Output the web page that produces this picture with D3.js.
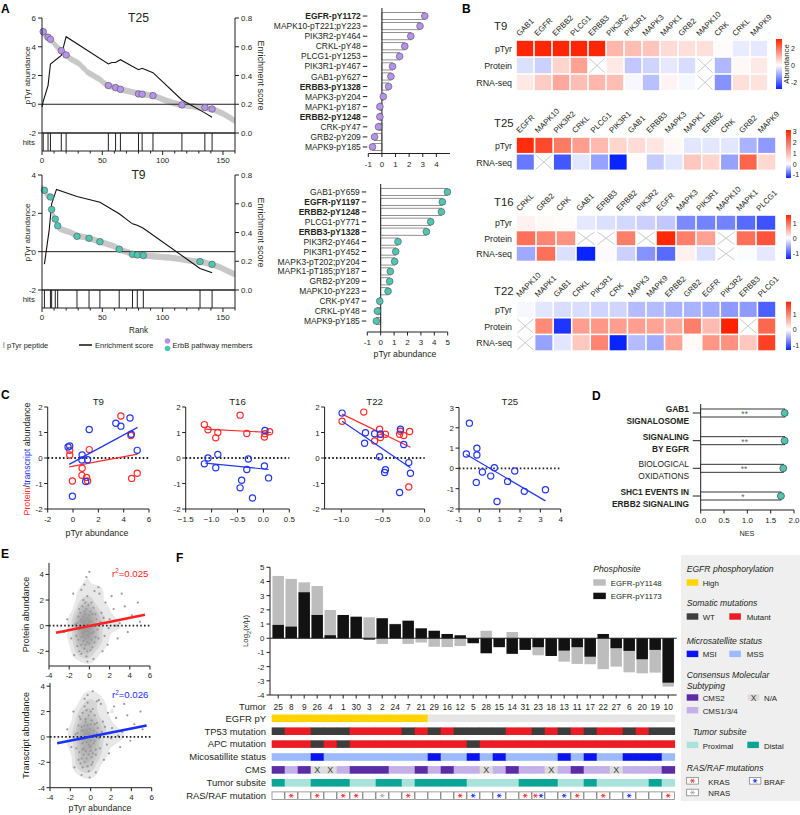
<!DOCTYPE html>
<html><head><meta charset="utf-8">
<script src="https://cdn.jsdelivr.net/npm/d3@7"></script>
<style>body{margin:0;background:#fff;}</style>
</head><body>
<script>
// ================= DATA =================
const rankT25 = [5.05,4.95,4.85,4.78,4.72,4.66,4.58,4.52,4.42,4.32,
4.22,4.12,4.03,3.95,3.87,3.80,3.73,3.65,3.58,3.50,
3.43,3.36,3.28,3.21,3.15,3.10,3.05,3.00,2.96,2.92,
2.86,2.80,2.72,2.62,2.55,2.48,2.40,2.28,2.22,2.17,
2.12,2.07,2.02,1.97,1.92,1.87,1.82,1.78,1.72,1.65,
1.58,1.50,1.44,1.38,1.34,1.30,1.27,1.24,1.21,1.18,
1.16,1.14,1.12,1.10,1.07,1.04,1.02,1.00,0.98,0.96,
0.94,0.92,0.90,0.88,0.86,0.84,0.82,0.80,0.78,0.75,
0.72,0.71,0.70,0.70,0.69,0.68,0.67,0.66,0.65,0.63,
0.62,0.61,0.60,0.57,0.54,0.51,0.48,0.45,0.42,0.38,
0.35,0.32,0.29,0.26,0.23,0.20,0.17,0.14,0.11,0.08,
0.06,0.04,0.02,0.00,-0.02,-0.04,-0.05,-0.06,-0.07,-0.08,
-0.09,-0.10,-0.11,-0.12,-0.13,-0.14,-0.15,-0.17,-0.19,-0.20,
-0.21,-0.22,-0.23,-0.24,-0.24,-0.25,-0.26,-0.28,-0.30,-0.32,
-0.33,-0.35,-0.37,-0.40,-0.43,-0.46,-0.50,-0.54,-0.58,-0.62,
-0.66,-0.70,-0.75,-0.80,-0.85,-0.90,-0.95,-1.00,-1.06,-1.12];
const rankT9 = [3.30,3.25,3.20,3.05,2.95,2.90,2.87,2.85,2.20,2.00,
1.85,1.70,1.50,1.35,1.25,1.20,1.17,1.14,1.12,1.10,
1.08,1.06,1.04,1.02,0.99,0.96,0.93,0.90,0.87,0.84,
0.82,0.80,0.79,0.78,0.77,0.76,0.75,0.73,0.71,0.70,
0.68,0.66,0.64,0.62,0.60,0.58,0.56,0.54,0.52,0.50,
0.48,0.46,0.44,0.42,0.40,0.38,0.36,0.34,0.32,0.30,
0.27,0.24,0.20,0.16,0.13,0.10,0.07,0.05,0.03,0.01,
-0.01,-0.03,-0.05,-0.08,-0.11,-0.14,-0.15,-0.16,-0.16,-0.17,
-0.17,-0.18,-0.19,-0.20,-0.20,-0.21,-0.21,-0.22,-0.22,-0.23,
-0.23,-0.24,-0.24,-0.25,-0.25,-0.26,-0.26,-0.27,-0.27,-0.28,
-0.28,-0.29,-0.29,-0.30,-0.30,-0.31,-0.31,-0.32,-0.33,-0.34,
-0.34,-0.35,-0.36,-0.37,-0.38,-0.39,-0.40,-0.41,-0.42,-0.43,
-0.44,-0.45,-0.46,-0.47,-0.48,-0.49,-0.50,-0.50,-0.51,-0.51,
-0.52,-0.53,-0.54,-0.55,-0.56,-0.57,-0.59,-0.61,-0.63,-0.65,
-0.66,-0.68,-0.70,-0.72,-0.74,-0.76,-0.78,-0.80,-0.83,-0.86,
-0.89,-0.92,-0.95,-0.98,-1.01,-1.04,-1.07,-1.10,-1.13,-1.16];
const hitsT25 = [[1,5.05],[5,4.66],[7,4.52],[16,3.73],[20,3.43],[55,1.30],[61,1.16],[65,1.04],[80,0.72],[83,0.70],[92,0.60],[116,-0.05],[135,-0.23],[141,-0.33]];
const esT25 = [[0,0.18],[1,0.22],[5,0.33],[7,0.48],[16,0.54],[20,0.67],[55,0.48],[58,0.49],[61,0.49],[65,0.51],[80,0.44],[83,0.45],[92,0.42],[116,0.23],[135,0.14],[141,0.11]];
const hitsT9 = [[2,3.2],[7,2.85],[8,2.2],[11,1.7],[13,1.35],[29,0.8],[39,0.7],[48,0.52],[64,0.13],[75,-0.14],[79,-0.17],[84,-0.2],[131,-0.52],[141,-0.66]];
const esT9 = [[2,0.18],[6,0.42],[8,0.6],[12,0.7],[29,0.65],[39,0.63],[48,0.61],[64,0.53],[75,0.46],[79,0.45],[84,0.43],[131,0.15],[141,0.12]];
const lolTopNames = ["EGFR-pY1172","MAPK10-pT221;pY223","PIK3R2-pY464","CRKL-pY48","PLCG1-pY1253","PIK3R1-pY467","GAB1-pY627","ERBB3-pY1328","MAPK3-pY204","MAPK1-pY187","ERBB2-pY1248","CRK-pY47","GRB2-pY209","MAPK9-pY185"];
const lolTopVals = [3.15,2.8,2.12,1.68,1.3,0.78,0.66,0.49,0.1,-0.15,-0.15,-0.25,-0.54,-0.69];
const lolTopBold = ["EGFR-pY1172","ERBB3-pY1328","ERBB2-pY1248"];
const lolBotNames = ["GAB1-pY659","EGFR-pY1197","ERBB2-pY1248","PLCG1-pY771","ERBB3-pY1328","PIK3R2-pY464","PIK3R1-pY452","MAPK3-pT202;pY204","MAPK1-pT185;pY187","GRB2-pY209","MAPK10-pY223","CRK-pY47","CRKL-pY48","MAPK9-pY185"];
const lolBotVals = [4.98,4.6,4.53,3.73,3.41,1.29,1.12,1.04,0.72,0.67,0.55,-0.07,-0.25,-0.32];
const lolBotBold = ["EGFR-pY1197","ERBB2-pY1248","ERBB3-pY1328"];

const hmT9Genes = ["GAB1","EGFR","ERBB2","PLCG1","ERBB3","PIK3R2","PIK3R1","MAPK3","MAPK1","GRB2","MAPK10","CRK","CRKL","MAPK9"];
const hmT9pTyr = [3,3,3,3,3,1.0,0.9,0.8,0.5,0.45,0.45,0.05,-0.25,-0.3];
const hmT9Prot = [-0.4,-0.6,0.6,1.3,null,0.3,-0.7,-0.55,-0.3,-0.45,null,-0.9,0.1,0.3];
const hmT9Rna  = [0.3,0.7,1.2,0.9,1.0,0.9,-0.1,-0.8,0.15,-0.1,null,-1.4,0.45,0.4];
const hmT25Genes = ["EGFR","MAPK10","PIK3R2","CRKL","PLCG1","PIK3R1","GAB1","ERBB3","MAPK3","MAPK1","ERBB2","CRK","GRB2","MAPK9"];
const hmT25pTyr = [3.0,2.6,1.9,1.4,1.0,0.6,0.5,0.35,0.1,-0.15,-0.15,-0.15,-0.45,-0.6];
const hmT25Rna  = [-0.8,null,-1.0,-0.15,-0.55,-1.3,0.03,-0.3,-0.15,0.8,0.6,-0.55,2.2,0.55];
const hmT16Genes = ["CRKL","GRB2","CRK","GAB1","ERBB3","ERBB2","PIK3R2","EGFR","MAPK3","PIK3R1","MAPK10","MAPK1","PLCG1"];
const hmT16pTyr = [0.1,0.04,0.02,-0.15,-0.2,-0.25,-0.3,-0.35,-0.75,-0.8,-0.8,-0.95,-1.1];
const hmT16Prot = [1.0,0.85,0.75,null,null,0.9,null,1.5,0.9,0.65,null,1.0,1.2];
const hmT16Rna  = [-0.55,1.0,-0.2,-1.4,-0.03,-0.3,-0.7,-0.95,0.1,-0.2,null,-0.02,-0.15];
const hmT22Genes = ["MAPK10","MAPK1","GAB1","CRKL","PIK3R1","CRK","MAPK3","MAPK9","ERBB2","GRB2","EGFR","PIK3R2","ERBB3","PLCG1"];
const hmT22pTyr = [-0.05,-0.15,-0.2,-0.2,-0.25,-0.25,-0.4,-0.4,-0.45,-0.45,-0.5,-0.6,-0.6,-0.95];
const hmT22Prot = [null,0.95,-1.2,0.8,0.85,0.8,0.8,0.75,0.7,1.05,0.55,1.8,null,1.25];
const hmT22Rna  = [null,-0.55,-0.15,0.45,1.0,-1.3,-0.4,-0.5,0.75,0.05,0.85,0.9,0.45,1.55];

const cT9Prot = [[-0.26,0.3],[-0.26,0.12],[-0.05,-0.9],[0.72,-0.4],[0.7,-0.68],[1.07,-0.76],[1.15,-0.9],[1.28,0.33],[3.78,1.65],[4.57,0.88],[4.63,-0.8],[5.07,-0.6]];
const cT9Rna  = [[-0.39,0.43],[-0.26,0.47],[-0.05,-1.5],[0.72,0.12],[0.7,-0.08],[1.15,-0.07],[1.0,-0.92],[1.28,1.12],[3.38,1.36],[3.78,1.25],[4.5,1.57],[4.6,0.93],[5.07,0.3]];
const cT9FitProt = [[-0.3,-0.35],[5.1,0.15]], cT9FitRna = [[-0.3,-0.25],[5.1,1.2]];
const cT16Prot = [[-1.14,1.31],[-1.07,1.11],[-0.92,0.79],[-0.88,1.0],[-0.45,1.68],[-0.32,0.96],[0.03,0.95],[0.02,0.82],[0.12,1.03]];
const cT16Rna  = [[-1.14,-0.23],[-1.07,0.0],[-0.92,-0.38],[-0.88,0.14],[-0.45,-1.17],[-0.42,-0.87],[-0.32,-0.45],[-0.29,-0.04],[-0.21,-1.57],[0.02,-0.31],[0.03,1.08],[0.1,-0.78]];
const cT16FitProt = [[-1.12,1.13],[0.15,1.0]], cT16FitRna = [[-1.12,-0.2],[0.1,-0.45]];
const cT22Prot = [[-0.99,1.44],[-0.73,1.8],[-0.6,0.67],[-0.54,1.13],[-0.53,0.93],[-0.53,0.8],[-0.47,0.93],[-0.3,0.93],[-0.29,1.05],[-0.25,0.88],[-0.18,1.04],[-0.19,-1.14]];
const cT22Rna  = [[-0.99,1.76],[-0.71,0.99],[-0.72,0.58],[-0.6,0.95],[-0.53,0.93],[-0.54,0.05],[-0.47,-0.46],[-0.48,-0.57],[-0.3,-1.35],[-0.29,1.13],[-0.25,0.53],[-0.19,-0.18],[-0.17,-0.6]];
const cT22FitProt = [[-0.99,1.72],[-0.17,0.42]], cT22FitRna = [[-0.99,1.44],[-0.17,-0.38]];
const cT25Rna  = [[-0.49,2.23],[-0.64,0.71],[-0.12,0.99],[-0.12,0.66],[-0.15,-0.69],[0.15,-0.18],[0.56,-0.38],[0.74,0.03],[0.87,-1.63],[1.39,-0.64],[1.74,-0.13],[2.21,-1.13],[3.25,-1.05]];
const cT25FitRna = [[-0.64,0.68],[3.25,-1.6]];

const nesLabels = [["GAB1","SIGNALOSOME"],["SIGNALING","BY EGFR"],["BIOLOGICAL","OXIDATIONS"],["SHC1 EVENTS IN","ERBB2 SIGNALING"]];
const nesBold = [true,true,false,true];
const nesVals = [1.8,1.8,1.77,1.72];
const nesSig = ["**","**","**","*"];

const eProt = [[-0.5,0.2],[-0.3,-0.4],[-0.8,0.5],[-0.1,-0.9],[-0.6,-1.2],[0.2,0.3],[-0.4,0.9],[-1.0,-0.3],[0.1,-0.2],[-0.2,0.6],[-0.7,-0.6],[0.4,-0.5],[-0.3,1.3],[-0.9,1.0],[0.0,-1.4],[-0.5,-1.8],[-1.2,0.2],[0.3,0.9],[-0.6,0.0],[-0.2,-0.7],[0.5,0.1],[-0.4,-1.0],[-0.8,-1.5],[-1.1,0.7],[0.2,-1.1],[-0.1,1.6],[-0.7,1.5],[0.6,-0.9],[-0.3,-0.1],[-1.3,-0.8],[0.0,0.4],[-0.5,-0.5],[-0.9,-0.1],[0.3,-1.7],[-0.2,-2.0],[-0.6,2.0],[0.1,1.1],[-1.0,1.3],[-0.4,0.4],[0.7,0.5],[-0.8,-2.2],[-0.1,-0.4],[0.4,1.4],[-1.4,0.1],[-0.6,-0.8],[-0.3,0.1],[0.0,0.8],[-0.7,0.3],[0.2,-0.6],[-0.5,1.1],[-1.1,-1.1],[0.8,-0.3],[-0.2,-1.3],[-0.9,0.4],[0.1,-1.9],[-0.4,-1.5],[0.5,-1.3],[-1.2,-1.6],[-0.6,0.7],[-0.1,0.2],[-0.3,-2.4],[0.3,0.0],[-0.8,-0.9],[-0.4,1.8],[0.0,-0.6],[-1.0,-2.0],[0.6,0.9],[-0.7,-0.3],[-0.2,2.3],[0.2,1.8],
[-0.5,3.2],[0.0,4.2],[-0.3,3.8],[-1.6,2.5],[1.2,1.0],[1.5,-0.8],[2.0,0.5],[2.4,1.3],[1.8,-1.5],[3.0,0.2],[3.5,1.5],[4.2,0.8],[2.8,-1.0],[1.0,2.5],[-1.8,-1.0],[-2.2,0.5],[1.3,-2.0],[0.9,3.0],[-0.8,2.8],[4.8,1.8],[3.8,-0.5],[2.2,2.3],[-1.5,-2.3],[0.4,-2.6],[1.6,1.8],[5.0,0.3],[2.6,0.0],[-0.2,-2.8],[1.1,0.3],[0.9,-1.0],[3.2,2.5],[1.9,-0.2],[-2.5,-0.5],[0.5,2.7],[1.4,0.6]];
const eRna = [[-0.4,0.3],[-0.2,-0.6],[-0.9,0.8],[0.0,-1.1],[-0.7,-1.4],[0.3,0.5],[-0.5,1.2],[-1.1,-0.2],[0.1,0.0],[-0.3,0.9],[-0.8,-0.5],[0.4,-0.3],[-0.2,1.7],[-1.0,1.4],[0.1,-1.6],[-0.6,-2.0],[-1.3,0.3],[0.4,1.0],[-0.6,0.2],[-0.1,-0.8],[0.6,0.3],[-0.5,-1.1],[-0.9,-1.7],[-1.2,0.9],[0.2,-1.3],[0.0,2.0],[-0.8,1.9],[0.5,-1.0],[-0.3,0.0],[-1.4,-0.9],[-0.1,0.6],[-0.4,-0.4],[-1.0,0.0],[0.2,-2.0],[-0.3,-2.3],[-0.6,2.4],[0.1,1.3],[-1.1,1.6],[-0.4,0.5],[0.7,0.7],[-0.8,-2.4],[0.0,-0.3],[0.4,1.7],[-1.5,0.2],[-0.7,-0.9],[-0.2,0.2],[0.0,1.0],[-0.7,0.5],[0.3,-0.5],[-0.5,1.4],[-1.1,-1.2],[0.8,-0.1],[-0.2,-1.4],[-0.9,0.5],[0.1,-2.2],[-0.4,-1.7],[0.5,-1.4],[-1.2,-1.8],[-0.6,0.9],[-0.1,0.3],[-0.3,2.7],[0.3,0.2],[-0.8,-1.0],[-0.4,2.1],[0.0,-0.7],[-1.0,-2.1],[0.6,1.1],[-0.7,-0.2],[-0.2,-2.7],[0.2,2.2],
[-0.3,3.3],[0.2,3.6],[-0.6,3.0],[-1.7,2.0],[1.2,1.2],[1.6,-0.6],[2.1,0.7],[2.5,1.5],[1.8,-1.3],[3.1,0.4],[3.6,1.7],[4.3,1.0],[2.9,-0.8],[1.0,2.6],[-1.9,-0.8],[-2.3,0.6],[1.3,-1.8],[0.8,2.9],[-0.9,-3.0],[4.9,2.0],[3.9,-0.3],[2.3,2.4],[-1.6,-2.4],[0.5,-2.8],[1.7,1.9],[5.1,0.6],[2.7,0.1],[-0.1,-3.2],[1.1,0.4],[0.9,-0.9],[3.3,2.6],[2.0,-0.1],[-2.6,-0.4],[0.6,2.8],[1.4,0.8]];
const eFitProt = [[-3.3,-0.55],[5.5,0.85]], eFitRna = [[-3.3,-0.5],[5.5,0.9]];

const tumors = ["25","8","9","26","4","1","30","3","2","24","7","21","29","16","12","5","28","15","14","31","23","18","13","11","17","22","27","6","20","19","10"];
const pY1148 = [4.39,4.18,3.94,3.68,1.99,1.5,1.4,1.48,-0.4,1.02,-0.4,-0.3,-0.6,-0.62,-0.55,-0.25,0.53,-0.5,0.44,-0.6,-1.2,-1.1,-1.65,-1.81,-1.83,-2.18,-2.0,-2.4,-2.47,-2.42,-3.41];
const pY1173 = [0.94,0.82,3.24,1.64,0.21,1.64,1.52,-0.1,1.41,0.99,1.24,0.7,0.53,0.3,0.21,-0.35,-1.06,-0.63,-1.1,-0.82,-0.63,-1.25,-0.87,-0.63,-1.3,0.3,-0.7,-0.89,-1.48,-0.82,-3.13];
const egfrPY = ["High","High","High","High","High","High","High","High","High","High","High","High","Low","Low","Low","Low","Low","Low","Low","Low","Low","Low","Low","Low","Low","Low","Low","Low","Low","Low","Low"];
const tp53 = ["WT","Mut","Mut","WT","WT","WT","Mut","Mut","Mut","Mut","WT","Mut","WT","Mut","WT","WT","WT","WT","Mut","Mut","WT","Mut","WT","Mut","WT","Mut","Mut","WT","Mut","WT","WT"];
const apc = ["Mut","Mut","Mut","WT","Mut","WT","Mut","Mut","Mut","Mut","Mut","Mut","Mut","Mut","Mut","WT","Mut","Mut","Mut","Mut","Mut","Mut","Mut","Mut","Mut","Mut","Mut","Mut","Mut","Mut","Mut"];
const msi = ["MSS","MSS","MSS","MSI","MSS","MSS","MSS","MSS","MSS","MSS","MSS","MSS","MSI","MSS","MSS","MSI","MSS","MSI","MSS","MSS","MSS","MSS","MSI","MSS","MSI","MSS","MSS","MSI","MSI","MSI","MSS"];
const cms = ["CMS2","CMS1/3/4","CMS2","NA","NA","CMS1/3/4","CMS2","CMS2","CMS2","CMS1/3/4","CMS1/3/4","CMS2","CMS1/3/4","CMS2","CMS1/3/4","CMS1/3/4","NA","CMS1/3/4","CMS2","CMS1/3/4","CMS1/3/4","NA","CMS1/3/4","CMS2","CMS1/3/4","CMS1/3/4","NA","CMS1/3/4","CMS1/3/4","CMS1/3/4","CMS2"];
const subsite = ["Distal","Proximal","Proximal","Distal","Distal","Distal","Proximal","Proximal","Distal","Distal","Proximal","Distal","Distal","Distal","Distal","Proximal","Proximal","Proximal","Proximal","Distal","Distal","Distal","Proximal","Proximal","Distal","Proximal","Proximal","Proximal","Proximal","Distal","Proximal"];
const rasraf = ["","K","","K","","K","K","","N","","K","","","","K","B","","B","","K","KB","","B","K","","K","","B","","","K"];

// ================= DRAWING =================
const INK = '#231f20';
const svg = d3.select('body').append('svg').attr('width',800).attr('height',815)
  .style('font-family','"Liberation Sans", Arial, sans-serif');
svg.append('rect').attr('width',800).attr('height',815).attr('fill','#fff');
const defs = svg.append('defs');

// font-size calibration: size so that a sample string spans the width measured on the reference
const meas = svg.append('text').attr('x',-500).attr('y',-500);
function fit(str,target,o={}){
  meas.attr('font-size',10).attr('font-weight',o.weight||'normal').attr('font-style',o.italic?'italic':'normal').text(str);
  const w=meas.node().getComputedTextLength();
  return +(10*target/w).toFixed(2);
}
const S = {
  tick: fit('150',13.3),
  lol: fit('MAPK10-pT221;pY223',87),
  hrow: fit('RNA-seq',35.7),
  hgene: fit('MAPK10',31),
  title: fit('T25',21),
  htitle: fit('T25',19.5),
  ctitle: fit('T16',16.7),
  alab: fit('pTyr abundance',58),
  eslab: fit('Enrichment score',70),
  hits: fit('hits',12.3),
  rank: fit('Rank',19),
  aleg: fit('ErbB pathway members',80),
  xlab: fit('pTyr abundance',63),
  clab: fit('Protein',28),
  dlab: fit('ERBB2 SIGNALING',77,{weight:'bold'}),
  nes: fit('NES',15),
  elab: fit('Transcript abundance',86.7),
  r2: fit('r=0.025',33),
  tum: fit('25',9.3),
  flab: fit('Tumor',27),
  fleg: fit('EGFR-pY1148',51),
  flegi: fit('EGFR phosphorylation',87,{italic:true}),
  log: fit('Log(x/μ)',29)
};
meas.remove();

function T(x,y,s,o={}){
  const t=svg.append('text').attr('x',x).attr('y',y).attr('font-size',o.size||S.tick)
    .attr('text-anchor',o.anchor||'start').attr('fill',o.fill||INK).text(s);
  if(o.weight) t.attr('font-weight',o.weight);
  if(o.italic) t.attr('font-style','italic');
  if(o.rot!=null) t.attr('transform',`rotate(${o.rot},${x},${y})`);
  return t;
}
function L(x1,y1,x2,y2,o={}){
  const l=svg.append('line').attr('x1',x1).attr('y1',y1).attr('x2',x2).attr('y2',y2)
    .attr('stroke',o.stroke||INK).attr('stroke-width',o.w||1);
  if(o.dash) l.attr('stroke-dasharray',o.dash);
  return l;
}
const PURPLE='#b592ec', TEAL='#4fc6b3';

// ---------- Panel A : rank plots ----------
function rankPlot(c){
  const x=d3.scaleLinear().domain([0,160]).range([42,235]);
  const y=d3.scaleLinear().domain(c.yDom).range([c.yBot,c.yTop]);
  const e=d3.scaleLinear().domain([0,0.8]).range([c.yBot,c.yTop]);
  svg.append('g').selectAll('rect').data(c.curve).join('rect')
    .attr('x',(d,i)=>x(i)-1.1).attr('y',d=>y(d)-3).attr('width',2.2).attr('height',6).attr('fill','#c8c8c8');
  L(42,y(0),235,y(0),{w:1});
  svg.append('path').datum(c.es).attr('d',d3.line().x(d=>x(d[0])).y(d=>e(d[1])))
    .attr('fill','none').attr('stroke','#111').attr('stroke-width',1.1);
  svg.append('g').selectAll('circle').data(c.hits).join('circle')
    .attr('cx',d=>x(d[0])).attr('cy',d=>y(d[1])).attr('r',3.3)
    .attr('fill',c.color).attr('stroke','#555').attr('stroke-width',0.6);
  c.hits.forEach(d=>L(x(d[0]),c.yBot,x(d[0]),c.hBot,{w:1}));
  L(42,c.yBot,235,c.yBot,{w:1.4});
  L(42,c.yTop,42,c.hBot); L(235,c.yTop,235,c.hBot); L(42,c.hBot,235,c.hBot);
  c.yTicks.forEach(v=>{L(38,y(v),42,y(v)); T(36,y(v)+3,String(v),{anchor:'end'});});
  [0.8,0.6,0.4,0.2,0].forEach(v=>{L(235,e(v),239,e(v)); T(241,e(v)+3,v.toFixed(1));});
  d3.range(0,161,10).forEach(v=>{const M=v%50===0; L(x(v),c.hBot,x(v),c.hBot+(M?4:2.5));
    if(M&&v<=150) T(x(v),c.hBot+12,String(v),{anchor:'middle'});});
  T(35,(c.yBot+c.hBot)/2+3,'hits',{anchor:'end',size:S.hits});
  T(138.5,c.yTop+3.5,c.title,{anchor:'middle',size:S.title});
  T(30,(c.yTop+c.yBot)/2,'pTyr abundance',{anchor:'middle',rot:-90,size:S.alab});
  T(258,(c.yTop+c.yBot)/2,'Enrichment score',{anchor:'middle',rot:90,size:S.eslab});
}
rankPlot({curve:rankT25,hits:hitsT25,es:esT25,yDom:[-2,6],yTop:18,yBot:133,hBot:151,yTicks:[6,4,2,0,-2],title:'T25',color:PURPLE});
rankPlot({curve:rankT9,hits:hitsT9,es:esT9,yDom:[-2,4],yTop:175,yBot:290,hBot:308,yTicks:[4,2,0,-2],title:'T9',color:TEAL});
T(138.5,333,'Rank',{anchor:'middle',size:S.rank});
svg.append('rect').attr('x',3).attr('y',342).attr('width',1.6).attr('height',6).attr('fill','#bbb');
T(7,347.5,'pTyr peptide',{size:S.aleg});
L(79,345,92,345,{w:1.6});
T(95,347.5,'Enrichment score',{size:S.aleg});
svg.append('circle').attr('cx',167.5).attr('cy',341).attr('r',2.8).attr('fill',PURPLE);
svg.append('circle').attr('cx',167.5).attr('cy',348.5).attr('r',2.8).attr('fill',TEAL);
T(172.5,347.5,'ErbB pathway members',{size:S.aleg});

// ---------- Panel A : lollipops ----------
function lollipop(c){
  const x=d3.scaleLinear().domain([-1,5]).range([c.x0,c.x1]);
  const y=d3.scaleBand().domain(c.names).range([c.yTop,c.yBot]);
  c.names.forEach((n,i)=>{
    const cy=y(n)+y.bandwidth()/2, v=c.vals[i];
    svg.append('rect').attr('x',Math.min(x(0),x(v))).attr('y',cy-3.6).attr('width',Math.abs(x(v)-x(0)))
      .attr('height',7.2).attr('fill','#fff').attr('stroke','#777').attr('stroke-width',0.8);
  });
  L(x(0),c.yTop-3,x(0),c.axisY);
  c.names.forEach((n,i)=>{
    const cy=y(n)+y.bandwidth()/2, v=c.vals[i];
    svg.append('circle').attr('cx',x(v)).attr('cy',cy).attr('r',3.4).attr('fill',c.color).attr('stroke','#555').attr('stroke-width',0.6);
    L(c.x0-5.5,cy,c.x0-1,cy);
    T(c.x0-7.5,cy+3.1,n,{anchor:'end',weight:c.bold.includes(n)?'bold':null,size:S.lol});
  });
  L(c.x0,c.axisY,c.x1,c.axisY);
  c.ticks.forEach(v=>{L(x(v),c.axisY,x(v),c.axisY+3.5); T(x(v),c.axisY+13,String(v),{anchor:'middle'});});
}
lollipop({names:lolTopNames,vals:lolTopVals,bold:lolTopBold,x0:368.3,x1:450,yTop:11,yBot:152,axisY:153.5,color:PURPLE,ticks:[-1,0,1,2,3,4]});
lollipop({names:lolBotNames,vals:lolBotVals,bold:lolBotBold,x0:367.3,x1:447.7,yTop:187,yBot:326,axisY:332,color:TEAL,ticks:[-1,0,1,2,3,4,5]});
T(405,357,'pTyr abundance',{anchor:'middle',size:S.xlab});

// ---------- Panel B : heatmaps ----------
const RED='#ff2200', BLUE='#0a24ff';
function heat(c){
  const x=d3.scaleBand().domain(c.genes).range([c.x0,c.x1]);
  const col=d3.scaleLinear().domain([c.dom[0],0,c.dom[1]]).range([BLUE,'#ffffff',RED]).clamp(true);
  c.rows.forEach((r,ri)=>{
    const yy=c.y0+ri*c.pitch;
    T(c.x0-4,yy+c.h/2+3.5,c.rowNames[ri],{anchor:'end',size:S.hrow});
    r.forEach((v,ci)=>{
      const xx=x(c.genes[ci]), w=x.bandwidth();
      svg.append('rect').attr('x',xx+0.8).attr('y',yy+0.8).attr('width',w-1.6).attr('height',c.h-1.6)
        .attr('fill',v==null?'#fff':col(v));
      if(v==null){
        L(xx+1.5,yy+1.5,xx+w-1.5,yy+c.h-1.5,{stroke:'#bbb',w:0.8});
        L(xx+w-1.5,yy+1.5,xx+1.5,yy+c.h-1.5,{stroke:'#bbb',w:0.8});
      }
    });
  });
  c.genes.forEach(g=>T(x(g)+3.5,c.y0-3.5,g,{rot:-45,size:S.hgene}));
  T(c.tx,c.ty,c.title,{size:S.htitle});
  const id='grad'+c.title;
  const gr=defs.append('linearGradient').attr('id',id).attr('x1',0).attr('y1',0).attr('x2',0).attr('y2',1);
  gr.append('stop').attr('offset',0).attr('stop-color',RED);
  gr.append('stop').attr('offset',c.dom[1]/(c.dom[1]-c.dom[0])).attr('stop-color','#fff');
  gr.append('stop').attr('offset',1).attr('stop-color',BLUE);
  svg.append('rect').attr('x',c.cb[0]).attr('y',c.cb[1]).attr('width',c.cb[2]).attr('height',c.cb[3]-c.cb[1]).attr('fill',`url(#${id})`);
  const cy=d3.scaleLinear().domain(c.dom).range([c.cb[3],c.cb[1]]);
  c.cbTicks.forEach(v=>T(c.cbx||(c.cb[0]+c.cb[2]+1.8),cy(v)+2.6,String(v),{size:7}));
}
heat({title:'T9',tx:494,ty:30,genes:hmT9Genes,rows:[hmT9pTyr,hmT9Prot,hmT9Rna],rowNames:['pTyr','Protein','RNA-seq'],
  x0:516,x1:768,y0:40,pitch:17,h:17,dom:[-2.8,3.06],cb:[776,39,6,89],cbTicks:[2,0,-2],cbx:791});
T(789,64,'Abundance',{anchor:'middle',rot:-90,size:7.8});
heat({title:'T25',tx:494,ty:127,genes:hmT25Genes,rows:[hmT25pTyr,hmT25Rna],rowNames:['pTyr','RNA-seq'],
  x0:516,x1:776,y0:137,pitch:16.7,h:16.7,dom:[-1.3,3.15],cb:[786,130,5,178],cbTicks:[3,2,1,0,-1]});
heat({title:'T16',tx:494,ty:206,genes:hmT16Genes,rows:[hmT16pTyr,hmT16Prot,hmT16Rna],rowNames:['pTyr','Protein','RNA-seq'],
  x0:516,x1:776,y0:215,pitch:15.5,h:15.5,dom:[-1.4,1.55],cb:[786,215,5,259],cbTicks:[1,0,-1]});
heat({title:'T22',tx:494,ty:295,genes:hmT22Genes,rows:[hmT22pTyr,hmT22Prot,hmT22Rna],rowNames:['pTyr','Protein','RNA-seq'],
  x0:516,x1:776,y0:301,pitch:16.7,h:16.7,dom:[-1.3,1.8],cb:[786,301.7,5,350],cbTicks:[1,0,-1]});

// ---------- Panel C : scatter ----------
const CRED='#ff2a2a', CBLUE='#2236f0';
function scat(c){
  const x=d3.scaleLinear().domain(c.xDom).range(c.xR);
  const y=d3.scaleLinear().domain(c.yDom).range([509,c.yTopPx]);
  L(c.xR[0],509,c.xR[1],509); L(c.xR[0],509,c.xR[0],c.yTopPx);
  c.yTicks.forEach(v=>{L(c.xR[0]-3.5,y(v),c.xR[0],y(v)); T(c.xR[0]-5,y(v)+3,String(v),{anchor:'end'});});
  c.xTicks.forEach(v=>{L(x(v),509,x(v),512.5); T(x(v),521.5,c.fmt(v),{anchor:'middle'});});
  L(c.xR[0],y(0),c.xR[1],y(0),{w:1.8,dash:'1.6,2.2'});
  const line=d3.line().x(d=>x(d[0])).y(d=>y(d[1]));
  c.sets.forEach(s=>{
    svg.append('g').selectAll('circle').data(s.pts).join('circle').attr('cx',d=>x(d[0])).attr('cy',d=>y(d[1]))
      .attr('r',3.1).attr('fill','none').attr('stroke',s.color).attr('stroke-width',1.2);
    svg.append('path').datum(s.fit).attr('d',line).attr('stroke',s.color).attr('stroke-width',1.2).attr('fill','none');
  });
  T((c.xR[0]+c.xR[1])/2,404.5,c.title,{anchor:'middle',size:S.ctitle});
}
const fInt=v=>String(v), f1=d3.format('.1f');
scat({title:'T9',xDom:[-2,6],xR:[47.7,149],yDom:[-2,2],yTopPx:407,yTicks:[2,1,0,-1,-2],xTicks:[-2,0,2,4,6],fmt:fInt,
  sets:[{pts:cT9Prot,fit:cT9FitProt,color:CRED},{pts:cT9Rna,fit:cT9FitRna,color:CBLUE}]});
scat({title:'T16',xDom:[-1.5,0.5],xR:[185.7,289.3],yDom:[-2,2],yTopPx:407,yTicks:[2,1,0,-1,-2],xTicks:[-1.5,-1.0,-0.5,0,0.5],fmt:f1,
  sets:[{pts:cT16Prot,fit:cT16FitProt,color:CRED},{pts:cT16Rna,fit:cT16FitRna,color:CBLUE}]});
scat({title:'T22',xDom:[-1.2,0],xR:[324.6,424.6],yDom:[-2,2],yTopPx:407,yTicks:[2,1,0,-1,-2],xTicks:[-1.0,-0.5,0],fmt:f1,
  sets:[{pts:cT22Prot,fit:cT22FitProt,color:CRED},{pts:cT22Rna,fit:cT22FitRna,color:CBLUE}]});
scat({title:'T25',xDom:[-1,4],xR:[459,560.7],yDom:[-2,3],yTopPx:407.5,yTicks:[3,2,1,0,-1,-2],xTicks:[-1,0,1,2,3,4],fmt:fInt,
  sets:[{pts:cT25Rna,fit:cT25FitRna,color:CBLUE}]});
T(97,536,'pTyr abundance',{anchor:'middle',size:S.xlab});
{
  const t=svg.append('text').attr('x',29.5).attr('y',459).attr('font-size',S.clab).attr('text-anchor','middle')
    .attr('transform','rotate(-90,29.5,459)');
  t.append('tspan').attr('fill',CRED).text('Protein');
  t.append('tspan').attr('fill',INK).text('/');
  t.append('tspan').attr('fill',CBLUE).text('transcript');
  t.append('tspan').attr('fill',INK).text(' abundance');
}

// ---------- Panel D : NES ----------
{
  const x=d3.scaleLinear().domain([0,2]).range([700.7,794]);
  const rowsY=[413,440.7,468.3,496];
  L(700.7,404,700.7,510); L(700.7,510,794,510);
  [0,0.5,1,1.5,2].forEach(v=>{L(x(v),510,x(v),513.5); T(x(v),522.5,f1(v),{anchor:'middle'});});
  T(747,536,'NES',{anchor:'middle',size:S.nes});
  nesVals.forEach((v,i)=>{
    const cy=rowsY[i];
    svg.append('rect').attr('x',x(0)).attr('y',cy-4).attr('width',x(v)-x(0)).attr('height',8)
      .attr('fill','#fff').attr('stroke',INK).attr('stroke-width',0.9);
    svg.append('circle').attr('cx',x(v)).attr('cy',cy).attr('r',3.5).attr('fill',TEAL).attr('stroke','#333').attr('stroke-width',0.6);
    L(692.7,cy,700.7,cy);
    T(x(v/2)+2,cy+3.8,nesSig[i],{anchor:'middle',size:8.5,fill:'#666'});
    T(689,cy-1.2,nesLabels[i][0],{anchor:'end',weight:nesBold[i]?'bold':null,size:S.dlab});
    T(689,cy+11,nesLabels[i][1],{anchor:'end',weight:nesBold[i]?'bold':null,size:S.dlab});
  });
}

// ---------- Panel E : cloud scatter ----------
function eplot(c){
  const x=d3.scaleLinear().domain([-4,6]).range([c.x0,c.x1]);
  const y=d3.scaleLinear().domain(c.yDom).range([c.yB,c.yT]);
  const cid='clip'+c.id;
  defs.append('clipPath').attr('id',cid).append('rect').attr('x',c.x0).attr('y',c.yT).attr('width',c.x1-c.x0).attr('height',c.yB-c.yT);
  const g=svg.append('g').attr('clip-path',`url(#${cid})`);
  const dens=d3.contourDensity().x(d=>x(d[0])).y(d=>y(d[1])).size([800,815]).bandwidth(3.8).thresholds(10)(c.pts);
  g.selectAll('path').data(dens).join('path').attr('d',d3.geoPath()).attr('fill','#8a8a8a').attr('fill-opacity',0.2);
  g.selectAll('circle').data(c.pts).join('circle').attr('cx',d=>x(d[0])).attr('cy',d=>y(d[1])).attr('r',1.1).attr('fill','#999');
  L(c.x0,y(0),c.x1,y(0),{w:1.8,dash:'1.6,2.2'});
  svg.append('path').datum(c.fit).attr('d',d3.line().x(d=>x(d[0])).y(d=>y(d[1]))).attr('stroke',c.color).attr('stroke-width',2.6).attr('fill','none');
  L(c.x0,c.yT,c.x0,c.yB); L(c.x0,c.yB,c.x1,c.yB);
  c.yTicks.forEach(v=>{L(c.x0-3.5,y(v),c.x0,y(v)); T(c.x0-5,y(v)+3,String(v),{anchor:'end'});});
  [-4,-2,0,2,4,6].forEach(v=>{L(x(v),c.yB,x(v),c.yB+3.5); T(x(v),c.yB+12,String(v),{anchor:'middle'});});
  T(29.5,(c.yT+c.yB)/2,c.ylab,{anchor:'middle',rot:-90,size:S.elab});
  const t=svg.append('text').attr('x',112).attr('y',c.rY).attr('font-size',S.r2).attr('fill',c.color);
  t.append('tspan').text('r'); t.append('tspan').attr('dy',-3.5).attr('font-size',S.r2*0.65).text('2');
  t.append('tspan').attr('dy',3.5).text('=' + c.r2);
}
eplot({id:'e1',pts:eProt,fit:eFitProt,color:'#ff2020',x0:49,x1:150,yDom:[-3.15,4.9],yB:666,yT:562.9,yTicks:[-2,0,2,4],ylab:'Protein abundance',rY:576.5,r2:'0.025'});
eplot({id:'e2',pts:eRna,fit:eFitRna,color:'#1830ff',x0:50,x1:151.7,yDom:[-4,4.25],yB:787.7,yT:683,yTicks:[-4,-2,0,2,4],ylab:'Transcript abundance',rY:698,r2:'0.026'});
T(100,811,'pTyr abundance',{anchor:'middle',size:S.xlab});

// ---------- Panel F ----------
{
  const xb=d3.scaleBand().domain(tumors).range([271.7,674.7]);
  const y=d3.scaleLinear().domain([-4,5]).range([695,567.3]);
  const bw=xb.bandwidth()*0.88, off=(xb.bandwidth()-bw)/2;
  const bar=(vals,fill)=>svg.append('g').selectAll('rect').data(vals).join('rect')
    .attr('x',(d,i)=>xb(tumors[i])+off).attr('width',bw)
    .attr('y',d=>y(Math.max(0,d))).attr('height',d=>Math.abs(y(d)-y(0))).attr('fill',fill);
  bar(pY1148,'#bdbdbd'); bar(pY1173,'#121212');
  L(270,y(0),676.7,y(0),{w:1.1});
  L(270,567.3,270,695); L(270,695,676.7,695);
  d3.range(-4,6).forEach(v=>{L(266.5,y(v),270,y(v)); T(264.5,y(v)+3,String(v),{anchor:'end'});});
  tumors.forEach(t=>{const cx=xb(t)+xb.bandwidth()/2; L(cx,695,cx,698.5); T(cx,709.5,t,{anchor:'middle',size:S.tum});});
  T(266,709.5,'Tumor',{anchor:'end',size:S.flab});
  {
    const t=svg.append('text').attr('x',248).attr('y',631).attr('font-size',S.log).attr('text-anchor','middle').attr('fill',INK)
      .attr('transform','rotate(-90,248,631)');
    t.append('tspan').text('Log'); t.append('tspan').attr('dy',2.5).attr('font-size',S.log*0.7).text('2');
    t.append('tspan').attr('dy',-2.5).text('(x/μ)');
  }
  const colMap = {
    egfr:{High:'#ffd400',Low:'#e6e6e6'},
    mut:{WT:'#3d3d3d',Mut:'#ec1c24'},
    msi:{MSI:'#0a14f0',MSS:'#9cbaff'},
    cms:{'CMS2':'#5b2ca6','CMS1/3/4':'#c3b0e6','NA':'#dcdcdc'},
    site:{Proximal:'#a8e2da',Distal:'#0ba596'}
  };
  const tracks=[['EGFR pY',egfrPY,colMap.egfr],['TP53 mutation',tp53,colMap.mut],['APC mutation',apc,colMap.mut],
    ['Micosatillite status',msi,colMap.msi],['CMS',cms,colMap.cms],['Tumor subsite',subsite,colMap.site]];
  const ty0=714.5, tp=12.9, th=7.6, w=xb.bandwidth();
  tracks.forEach((tr,ri)=>{
    const yy=ty0+ri*tp;
    T(266,yy+th/2+3.3,tr[0],{anchor:'end',size:S.flab});
    tr[1].forEach((v,i)=>{
      svg.append('rect').attr('x',xb(tumors[i])).attr('y',yy).attr('width',w+0.4).attr('height',th).attr('fill',tr[2][v]);
      if(v==='NA') T(xb(tumors[i])+w/2,yy+th-0.3,'X',{anchor:'middle',size:9,fill:'#444'});
    });
  });
  const yr=ty0+6*tp;
  T(266,yr+th/2+3.3,'RAS/RAF mutation',{anchor:'end',size:S.flab});
  const star=(cx,cy,color)=>{[0,60,120].forEach(a=>{const r=a*Math.PI/180,dx=2.3*Math.cos(r),dy=2.3*Math.sin(r);
    L(cx-dx,cy-dy,cx+dx,cy+dy,{stroke:color,w:0.9});});};
  const RC={K:'#ff2a2a',N:'#aaaaaa',B:'#1830ff'};
  rasraf.forEach((v,i)=>{
    const xx=xb(tumors[i]);
    svg.append('rect').attr('x',xx+0.3).attr('y',yr).attr('width',w-0.6).attr('height',th).attr('fill','#fff').attr('stroke','#777').attr('stroke-width',0.7);
    const ks=v.split('').filter(s=>s);
    ks.forEach((k,j)=>star(xx+w/2+(ks.length>1?(j===0?-2.8:2.8):0),yr+th/2,RC[k]));
  });
  T(593.3,572,'Phosphosite',{italic:true,size:S.flegi});
  svg.append('rect').attr('x',593.3).attr('y',579.3).attr('width',12.5).attr('height',6.4).attr('fill','#bdbdbd');
  T(610.7,585.5,'EGFR-pY1148',{size:S.fleg});
  svg.append('rect').attr('x',593.3).attr('y',592.7).attr('width',12.5).attr('height',6.4).attr('fill','#121212');
  T(610.7,599,'EGFR-pY1173',{size:S.fleg});
  svg.append('rect').attr('x',681).attr('y',555).attr('width',119).attr('height',246).attr('fill','#efefef');
  const sw=(x,y,c)=>svg.append('rect').attr('x',x).attr('y',y).attr('width',11.6).attr('height',6.4).attr('fill',c);
  const LS=S.fleg, LI=S.flegi;
  T(686.7,572,'EGFR phosphorylation',{italic:true,size:LI});
  sw(686.7,579.3,'#ffd400'); T(702.7,585.5,'High',{size:LS});
  T(686.7,606,'Somatic mutations',{italic:true,size:LI});
  sw(686.7,613.3,'#3d3d3d'); T(702.7,619.5,'WT',{size:LS});
  sw(729.3,613.3,'#ec1c24'); T(746.7,619.5,'Mutant',{size:LS});
  T(686.7,643.5,'Microsatellite status',{italic:true,size:LI});
  sw(686.7,650.7,'#0a14f0'); T(702.7,657,'MSI',{size:LS});
  sw(729.3,650.7,'#9cbaff'); T(746.7,657,'MSS',{size:LS});
  T(686.7,678,'Consensus Molecular',{italic:true,size:LI});
  T(686.7,688.7,'Subtyping',{italic:true,size:LI});
  sw(686.7,694.3,'#5b2ca6'); T(702.7,700.5,'CMS2',{size:LS});
  sw(747.7,694.3,'#dcdcdc'); T(753.5,700.7,'X',{anchor:'middle',fill:'#444',size:8.5}); T(764,700.5,'N/A',{size:LS});
  sw(686.7,707,'#c3b0e6'); T(702.7,713.5,'CMS1/3/4',{size:LS});
  T(692.7,735,'Tumor subsite',{italic:true,size:LI});
  sw(686.7,741.7,'#a8e2da'); T(702.7,748.5,'Proximal',{size:LS});
  sw(747.3,741.7,'#0ba596'); T(764,748.5,'Distal',{size:LS});
  T(686.7,770.5,'RAS/RAF mutations',{italic:true,size:LI});
  const bx=(x,y,k)=>{svg.append('rect').attr('x',x).attr('y',y).attr('width',11.6).attr('height',6.6).attr('fill','#fff').attr('stroke','#777').attr('stroke-width',0.7); star(x+5.8,y+3.3,RC[k]);};
  bx(686.7,777.5,'K'); T(708.3,784.5,'KRAS',{size:LS});
  bx(749.3,777.5,'B'); T(764,784.5,'BRAF',{size:LS});
  bx(686.7,789.2,'N'); T(708.3,796,'NRAS',{size:LS});
}

[['A',1,12.5],['B',462,12.5],['C',1,399],['D',592,400],['E',1,558],['F',176,562]].forEach(p=>T(p[1],p[2],p[0],{weight:'bold',size:12,fill:'#000'}));
</script>
</body></html>
